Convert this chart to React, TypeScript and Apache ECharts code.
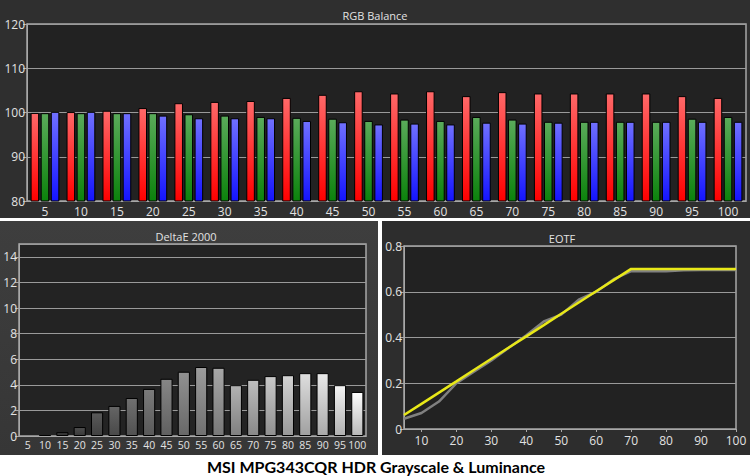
import React, { useEffect, useRef } from "react";
import * as echarts from "echarts";

const categories = ["5","10","15","20","25","30","35","40","45","50","55","60","65","70","75","80","85","90","95","100"];
const redValues = [99.9,100.1,100.4,101.0,102.1,102.4,102.6,103.3,104.0,104.8,104.3,104.8,103.7,104.6,104.3,104.3,104.3,104.3,103.7,103.3];
const greenValues = [99.85,99.85,99.85,99.85,99.6,99.3,99.0,98.8,98.6,98.1,98.4,98.1,99.0,98.4,97.9,97.9,97.9,97.9,98.6,99.0];
const blueValues = [100.15,100.15,99.85,99.3,98.7,98.7,98.7,98.1,97.8,97.3,97.5,97.3,97.7,97.5,97.7,97.9,97.9,97.9,97.9,97.9];

const deltaEValues = [0,0.08,0.3,0.7,1.85,2.35,2.97,3.68,4.47,5.02,5.39,5.33,3.97,4.39,4.68,4.75,4.91,4.91,3.97,3.44];

const eotfX = [5,10,15,20,25,30,35,40,45,50,55,60,65,70,75,80,85,90,95,100];
const eotfTarget = [0.061,0.11,0.159,0.208,0.258,0.307,0.356,0.405,0.454,0.504,0.553,0.602,0.651,0.70,0.70,0.70,0.70,0.70,0.70,0.70];
const eotfMeasured = [0.045,0.07,0.12,0.2,0.25,0.3,0.355,0.41,0.47,0.5,0.565,0.6,0.655,0.69,0.69,0.69,0.694,0.695,0.695,0.695];

const rgbTicks = [80,90,100,110,120];
const deltaTicks = [0,2,4,6,8,10,12,14];
const eotfXTicks = [10,20,30,40,50,60,70,80,90,100];

const FONT = "Open Sans";
const LABEL = "#e2e2e2";
const AXIS = "#a8a8a8";

function grad(top: string, bottom: string) {
  return new echarts.graphic.LinearGradient(0, 0, 0, 1, [
    { offset: 0, color: top },
    { offset: 1, color: bottom },
  ]);
}

function grayLevel(i: number) {
  const v = Math.min(255, Math.round(46 + 11 * i));
  const b = Math.round(v * 0.72);
  const h = (n: number) => n.toString(16).padStart(2, "0");
  return grad(`#${h(v)}${h(v)}${h(v)}`, `#${h(b)}${h(b)}${h(b)}`);
}

export default function App() {
  const ref = useRef<HTMLDivElement>(null);
  useEffect(() => {
    if (!ref.current) return;
    const chart = echarts.init(ref.current, undefined, { renderer: "svg" });
    const axisLabelBase = { color: LABEL, fontFamily: FONT, fontSize: 12 };
    const option: any = {
      animation: false,
      backgroundColor: "#ffffff",
      graphic: [
        { type: "rect", z: -10, shape: { x: 0, y: 0, width: 750, height: 218 }, style: { fill: "#2f2f2f" } },
        { type: "rect", z: -10, shape: { x: 0, y: 221, width: 378, height: 234 }, style: { fill: grad("#3e3e3e", "#363636") } },
        { type: "rect", z: -10, shape: { x: 382, y: 221, width: 368, height: 234 }, style: { fill: "#2d2d2d" } },
        { type: "text", x: 375, y: 15, style: { text: "RGB Balance", fill: LABEL, font: `11px "${FONT}"`, textAlign: "center", textVerticalAlign: "middle" } },
        { type: "text", x: 186, y: 236, style: { text: "DeltaE 2000", fill: LABEL, font: `11px "${FONT}"`, textAlign: "center", textVerticalAlign: "middle" } },
        { type: "text", x: 562, y: 238, style: { text: "EOTF", fill: LABEL, font: `11px "${FONT}"`, textAlign: "center", textVerticalAlign: "middle" } },
        { type: "text", x: 376, y: 466, style: { text: "MSI MPG343CQR HDR Grayscale & Luminance", fill: "#000", font: `bold 16px "Lato"`, textAlign: "center", textVerticalAlign: "middle" } },
      ],
      grid: [
        { left: 27, top: 24, width: 719, height: 177, show: true, backgroundColor: "#222222", borderColor: AXIS, borderWidth: 1.5 },
        { left: 19, top: 244, width: 347, height: 192, show: true, backgroundColor: "#232323", borderColor: AXIS, borderWidth: 1.5 },
        { left: 404, top: 246, width: 332, height: 183, show: true, backgroundColor: "#222222", borderColor: AXIS, borderWidth: 1.5 },
      ],
      xAxis: [
        {
          type: "category", gridIndex: 0, data: categories,
          axisLine: { lineStyle: { color: AXIS } },
          axisTick: { lineStyle: { color: AXIS }, length: 3 },
          axisLabel: { ...axisLabelBase, interval: 0, margin: 4 },
        },
        {
          type: "category", gridIndex: 1, data: categories,
          axisLine: { lineStyle: { color: AXIS } },
          axisTick: { lineStyle: { color: AXIS }, length: 3 },
          axisLabel: { ...axisLabelBase, fontSize: 10.5, interval: 0, margin: 3 },
        },
        {
          type: "value", gridIndex: 2, min: 5, max: 100,
          axisLine: { lineStyle: { color: AXIS } },
          axisTick: { show: true, lineStyle: { color: AXIS }, length: 3, customValues: eotfXTicks },
          axisLabel: { ...axisLabelBase, margin: 5, customValues: eotfXTicks },
          splitLine: { show: false },
        },
      ],
      yAxis: [
        {
          type: "value", gridIndex: 0, min: rgbTicks[0], max: rgbTicks[rgbTicks.length - 1], interval: 10,
          axisLine: { show: true, lineStyle: { color: AXIS } },
          axisTick: { show: true, lineStyle: { color: AXIS }, length: 4 },
          axisLabel: { ...axisLabelBase, margin: 2 },
          splitLine: { lineStyle: { color: "#9a9a9a", width: 1 } },
        },
        {
          type: "value", gridIndex: 1, min: deltaTicks[0], max: 15, interval: 2,
          axisLine: { show: true, lineStyle: { color: AXIS } },
          axisTick: { show: true, lineStyle: { color: AXIS }, length: 4 },
          axisLabel: { ...axisLabelBase, margin: 2, showMaxLabel: false },
          splitLine: { lineStyle: { color: "#9a9a9a", width: 1 } },
        },
        {
          type: "value", gridIndex: 2, min: 0, max: 0.8, interval: 0.2,
          axisLine: { show: true, lineStyle: { color: AXIS } },
          axisTick: { show: true, lineStyle: { color: AXIS }, length: 4 },
          axisLabel: { ...axisLabelBase, margin: 2, formatter: (v: number) => (v === 0 ? "0" : v.toFixed(1)) },
          splitLine: { lineStyle: { color: "#9a9a9a", width: 1 } },
        },
      ],
      series: [
        {
          type: "bar", xAxisIndex: 0, yAxisIndex: 0, data: redValues,
          barGap: "18%", barCategoryGap: "20%",
          itemStyle: { color: grad("#ff6868", "#ff0000"), borderColor: "#000", borderWidth: 1 },
        },
        {
          type: "bar", xAxisIndex: 0, yAxisIndex: 0, data: greenValues,
          barGap: "18%", barCategoryGap: "20%",
          itemStyle: { color: grad("#5aab5a", "#0c820c"), borderColor: "#000", borderWidth: 1 },
        },
        {
          type: "bar", xAxisIndex: 0, yAxisIndex: 0, data: blueValues,
          barGap: "18%", barCategoryGap: "20%",
          itemStyle: { color: grad("#7070ff", "#1414ff"), borderColor: "#000", borderWidth: 1 },
        },
        {
          type: "bar", xAxisIndex: 1, yAxisIndex: 1,
          barCategoryGap: "30%",
          data: deltaEValues.map((v, i) => ({
            value: v,
            itemStyle: { color: grayLevel(i), borderColor: "#000", borderWidth: v > 0 ? 1 : 0 },
          })),
        },
        {
          type: "line", xAxisIndex: 2, yAxisIndex: 2,
          data: eotfX.map((x, i) => [x, eotfMeasured[i]]),
          showSymbol: false, symbol: "none",
          lineStyle: { color: "#808080", width: 2.5 },
          z: 2,
        },
        {
          type: "line", xAxisIndex: 2, yAxisIndex: 2,
          data: eotfX.map((x, i) => [x, eotfTarget[i]]),
          showSymbol: false, symbol: "none",
          lineStyle: { color: "#e8e818", width: 2.5 },
          z: 3,
        },
      ],
    };
    chart.setOption(option);
    return () => chart.dispose();
  }, []);
  return (
    <div
      ref={ref}
      style={{ position: "absolute", left: 0, top: 0, width: 750, height: 476 }}
    />
  );
}
